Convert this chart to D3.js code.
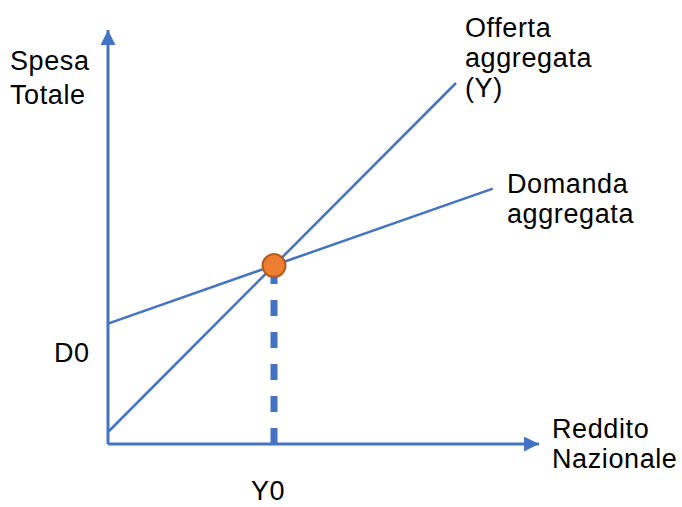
<!DOCTYPE html>
<html>
<head>
<meta charset="utf-8">
<script src="https://cdn.jsdelivr.net/npm/d3@7"></script>
<style>
  body { margin: 0; background: #fff; }
  text { font-family: "Liberation Sans", Arial, sans-serif; font-size: 27px; fill: #000; letter-spacing: 0.6px; }
</style>
</head>
<body>
<div id="chart"></div>
<script>
// Curve end points [reddito, spesa] in chart units
const offerta = [[0, 3], [87, 90.25]]
const domanda = [[0, 30.1], [96.2, 63.85]]
const equilibrio = [41.5, 44.6]
const assi = {x: 107.75, y: 103.5}

// Labels
const yLabel = ['Spesa', 'Totale']
const xLabel = ['Reddito', 'Nazionale']
const offertaLabel = ['Offerta', 'aggregata', '(Y)']
const domandaLabel = ['Domanda', 'aggregata']
const d0Label = 'D0'
const y0Label = 'Y0'

const blue = '#4472C4'
const orange = '#ED7D31'

function drawChart(target_id) {
    const width = 682, height = 507

    var svg = d3.select(target_id)
        .append('svg')
        .attr('width', width)
        .attr('height', height)

    // scales: 4px per unit
    const x = d3.scaleLinear().domain([0, 100]).range([108, 508])
    const y = d3.scaleLinear().domain([0, 100]).range([444, 44])

    // arrow heads
    svg.append('defs').append('marker')
        .attr('id', 'arrow')
        .attr('viewBox', '0 0 10 10')
        .attr('refX', 10).attr('refY', 5)
        .attr('markerWidth', 5).attr('markerHeight', 5)
        .attr('markerUnits', 'strokeWidth')
        .attr('orient', 'auto')
        .append('path')
        .attr('d', 'M0,0 L10,5 L0,10 Z')
        .attr('fill', blue)

    const line = d3.line().x(d => x(d[0])).y(d => y(d[1]))

    // axes
    svg.append('path')
        .attr('d', line([[0, 0], [0, assi.y]]))
        .attr('stroke', blue).attr('stroke-width', 3).attr('fill', 'none')
        .attr('marker-end', 'url(#arrow)')
    svg.append('path')
        .attr('d', line([[0, 0], [assi.x, 0]]))
        .attr('stroke', blue).attr('stroke-width', 3).attr('fill', 'none')
        .attr('marker-end', 'url(#arrow)')

    // dashed line down to Y0
    svg.append('path')
        .attr('d', line([[equilibrio[0], 0], equilibrio]))
        .attr('stroke', blue).attr('stroke-width', 7)
        .attr('stroke-dasharray', '16,16').attr('fill', 'none')

    // curves
    svg.selectAll('.curve')
        .data([offerta, domanda])
        .enter()
        .append('path')
        .attr('class', 'curve')
        .attr('d', line)
        .attr('stroke', blue).attr('stroke-width', 2.5).attr('fill', 'none')

    // equilibrium point
    svg.append('circle')
        .attr('cx', x(equilibrio[0]))
        .attr('cy', y(equilibrio[1]))
        .attr('r', 11.5)
        .attr('fill', orange)
        .attr('stroke', '#B35B1E')
        .attr('stroke-width', 2)

    // multi-line labels
    function label(lines, lx, ly, step) {
        svg.append('g').selectAll('text')
            .data(lines)
            .enter()
            .append('text')
            .attr('x', lx)
            .attr('y', (d, i) => ly + i * step)
            .text(d => d)
    }
    label(yLabel, 10, 70, 34)
    label(offertaLabel, 465, 37, 30)
    label(domandaLabel, 507, 193, 30)
    label(xLabel, 552, 438, 30)
    label([d0Label], 54, 362, 0)
    label([y0Label], 251, 500, 0)
}

drawChart('#chart')
</script>
</body>
</html>
